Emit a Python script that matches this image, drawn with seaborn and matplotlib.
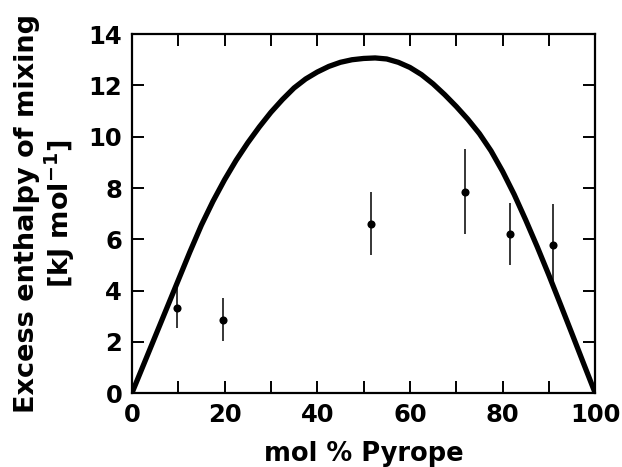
import numpy as np
import pandas as pd
import matplotlib
matplotlib.use("Agg")
import matplotlib.pyplot as plt
import seaborn as sns

# Model curve
curve_x = [0, 2.5, 5, 7.5, 10, 12.5, 15, 17.5, 20, 22.5, 25, 27.5, 30, 32.5, 35, 37.5, 40, 42.5,
           45, 47.5, 50, 52.5, 55, 57.5, 60, 62.5, 65, 67.5, 70, 72.5, 75, 77.5, 80, 82.5, 85,
           87.5, 90, 92.5, 95, 97.5, 100]
curve_y = [0, 1.1, 2.2, 3.3, 4.4, 5.5, 6.55, 7.48, 8.32, 9.08, 9.76, 10.38, 10.95, 11.45, 11.9,
           12.25, 12.52, 12.74, 12.9, 13.0, 13.05, 13.07, 13.03, 12.9, 12.7, 12.42, 12.06, 11.64,
           11.18, 10.68, 10.12, 9.45, 8.65, 7.75, 6.75, 5.7, 4.6, 3.46, 2.31, 1.15, 0]

# Measured points with error bars
pts_x = [9.8, 19.6, 51.7, 71.8, 81.7, 90.9]
pts_y = [3.33, 2.87, 6.61, 7.86, 6.2, 5.77]
pts_err = [0.8, 0.83, 1.24, 1.67, 1.2, 1.6]

xticks = [0, 20, 40, 60, 80, 100]
yticks = [0, 2, 4, 6, 8, 10, 12, 14]

sns.set_style("ticks")
plt.rcParams['font.family'] = ['DejaVu Sans']
plt.rcParams['text.color'] = 'black'
plt.rcParams['axes.labelcolor'] = 'black'
plt.rcParams['xtick.color'] = 'black'
plt.rcParams['ytick.color'] = 'black'
plt.rcParams['xtick.direction'] = 'in'
plt.rcParams['ytick.direction'] = 'in'

fig = plt.figure(figsize=(6.22, 4.67), dpi=100)
ax = fig.add_axes([0.212, 0.158, 0.745, 0.769])

curve = pd.DataFrame({"x": curve_x, "y": curve_y})
pts = pd.DataFrame({"x": pts_x, "y": pts_y, "err": pts_err})

sns.lineplot(data=curve, x="x", y="y", ax=ax, color="black", linewidth=3.8, sort=True)
ax.errorbar(pts["x"], pts["y"], yerr=pts["err"], fmt="none", ecolor="black", elinewidth=1.1, capsize=0)
sns.scatterplot(data=pts, x="x", y="y", ax=ax, color="black", s=34, edgecolor="black", linewidth=0, zorder=5)

ax.set_xlim(0, 100)
ax.set_ylim(0, 14)
ax.set_xticks(xticks)
ax.set_xticks(np.arange(0, 101, 10), minor=True)
ax.set_yticks(yticks)

for s in ax.spines.values():
    s.set_visible(True)
    s.set_linewidth(1.6)
    s.set_color("black")

ax.tick_params(which="both", direction="in", top=True, right=True, width=1.4, color="black",
               labelcolor="black")
ax.tick_params(which="major", length=8.5, pad=7)
ax.tick_params(which="minor", length=8.5)
for lab in ax.get_xticklabels() + ax.get_yticklabels():
    lab.set_fontweight("bold")
    lab.set_fontsize(17.5)

ax.set_xlabel("mol % Pyrope", fontsize=18.5, fontweight="bold", labelpad=10, color="black")
ax.set_ylabel("Excess enthalpy of mixing\n[kJ mol$^{\\mathbf{-1}}$]", fontsize=19.5, fontweight="bold",
              labelpad=8, linespacing=1.1, color="black")

fig.savefig("out.png", dpi=100)
